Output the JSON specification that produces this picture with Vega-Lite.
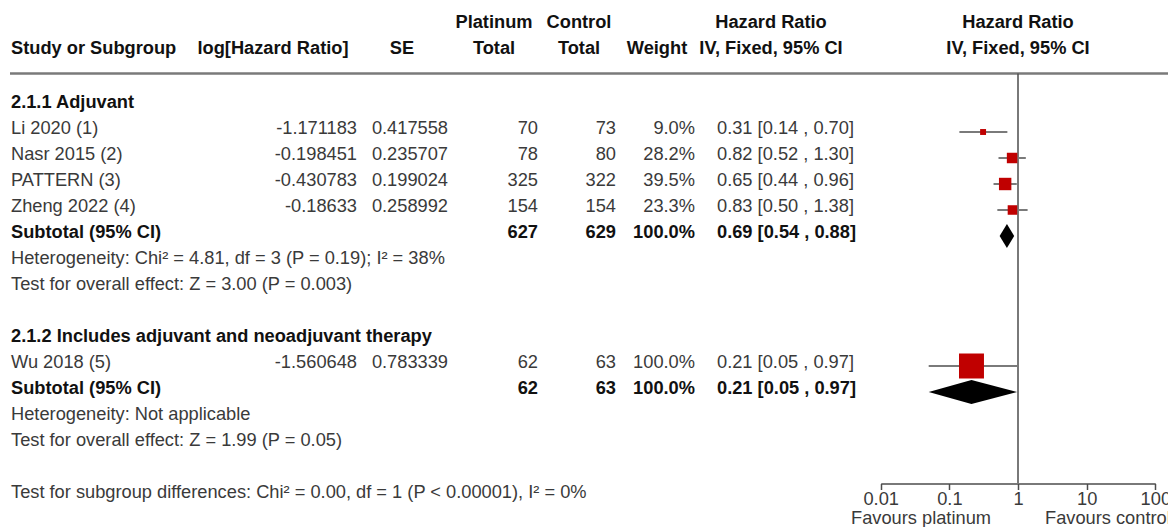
{
  "$schema": "https://vega.github.io/schema/vega-lite/v6.json",
  "width": 1168,
  "height": 527,
  "autosize": {"type": "none"},
  "padding": 0,
  "background": "white",
  "config": {
    "view": {"stroke": null},
    "font": "Liberation Sans",
    "text": {"font": "Liberation Sans", "fontSize": 18.25, "baseline": "middle"}
  },
  "datasets": {
    "rows": [
      {"row": 0, "kind": "group", "label": "2.1.1 Adjuvant"},
      {"row": 1, "kind": "study", "label": "Li 2020 (1)", "loghr": -1.171183, "se": 0.417558, "plat": 70, "ctrl": 73, "weight": 9.0, "wtxt": "9.0%", "hr": 0.31, "lo": 0.14, "hi": 0.70, "ci": "0.31 [0.14 , 0.70]"},
      {"row": 2, "kind": "study", "label": "Nasr 2015 (2)", "loghr": -0.198451, "se": 0.235707, "plat": 78, "ctrl": 80, "weight": 28.2, "wtxt": "28.2%", "hr": 0.82, "lo": 0.52, "hi": 1.30, "ci": "0.82 [0.52 , 1.30]"},
      {"row": 3, "kind": "study", "label": "PATTERN (3)", "loghr": -0.430783, "se": 0.199024, "plat": 325, "ctrl": 322, "weight": 39.5, "wtxt": "39.5%", "hr": 0.65, "lo": 0.44, "hi": 0.96, "ci": "0.65 [0.44 , 0.96]"},
      {"row": 4, "kind": "study", "label": "Zheng 2022 (4)", "loghr": -0.18633, "se": 0.258992, "plat": 154, "ctrl": 154, "weight": 23.3, "wtxt": "23.3%", "hr": 0.83, "lo": 0.50, "hi": 1.38, "ci": "0.83 [0.50 , 1.38]"},
      {"row": 5, "kind": "subtotal", "label": "Subtotal (95% CI)", "plat": 627, "ctrl": 629, "wtxt": "100.0%", "hr": 0.69, "lo": 0.54, "hi": 0.88, "ci": "0.69 [0.54 , 0.88]"},
      {"row": 6, "kind": "note", "label": "Heterogeneity: Chi² = 4.81, df = 3 (P = 0.19); I² = 38%"},
      {"row": 7, "kind": "note", "label": "Test for overall effect: Z = 3.00 (P = 0.003)"},
      {"row": 9, "kind": "group", "label": "2.1.2 Includes adjuvant and neoadjuvant therapy"},
      {"row": 10, "kind": "study", "label": "Wu 2018 (5)", "loghr": -1.560648, "se": 0.783339, "plat": 62, "ctrl": 63, "weight": 100.0, "wtxt": "100.0%", "hr": 0.21, "lo": 0.05, "hi": 0.97, "ci": "0.21 [0.05 , 0.97]"},
      {"row": 11, "kind": "subtotal", "label": "Subtotal (95% CI)", "plat": 62, "ctrl": 63, "wtxt": "100.0%", "hr": 0.21, "lo": 0.05, "hi": 0.97, "ci": "0.21 [0.05 , 0.97]"},
      {"row": 12, "kind": "note", "label": "Heterogeneity: Not applicable"},
      {"row": 13, "kind": "note", "label": "Test for overall effect: Z = 1.99 (P = 0.05)"},
      {"row": 15, "kind": "note", "label": "Test for subgroup differences: Chi² = 0.00, df = 1 (P < 0.00001), I² = 0%"}
    ],
    "header": [
      {"row": -3, "col": "plat", "text": "Platinum"},
      {"row": -3, "col": "ctrl", "text": "Control"},
      {"row": -3, "col": "hr", "text": "Hazard Ratio"},
      {"row": -2, "col": "study", "text": "Study or Subgroup"},
      {"row": -2, "col": "loghr", "text": "log[Hazard Ratio]"},
      {"row": -2, "col": "se", "text": "SE"},
      {"row": -2, "col": "plat", "text": "Total"},
      {"row": -2, "col": "ctrl", "text": "Total"},
      {"row": -2, "col": "weight", "text": "Weight"},
      {"row": -2, "col": "hr", "text": "IV, Fixed, 95% CI"}
    ],
    "plothead": [
      {"row": -3, "text": "Hazard Ratio"},
      {"row": -2, "text": "IV, Fixed, 95% CI"}
    ],
    "favours": [
      {"side": "left", "text": "Favours platinum"},
      {"side": "right", "text": "Favours control"}
    ]
  },
  "layer": [
    {
      "layer": [
        {
          "data": {"name": "rows"},
          "transform": [{"filter": "datum.kind === 'study' || datum.kind === 'note'"}],
          "mark": {"type": "text", "align": "left", "dy": -3, "color": "#3a3a3a"},
          "encoding": {
            "x": {"datum": 0, "type": "quantitative", "scale": {"domain": [0,1,2,3,4,5,6,7,8,9,10,11,12,13,14], "range": [11,357,448,538,616,695,717,273,402,494,579,657,771,10,1168], "nice": false, "zero": false}, "axis": null},
            "y": {"field": "row", "type": "quantitative", "scale": {"domain": [-4.076923, 16.192308], "reverse": true, "nice": false, "zero": false}, "axis": null},
            "text": {"field": "label", "type": "nominal"}
          }
        },
        {
          "data": {"name": "rows"},
          "transform": [{"filter": "datum.kind === 'group' || datum.kind === 'subtotal'"}],
          "mark": {"type": "text", "align": "left", "dy": -3, "fontWeight": "bold", "color": "#111111"},
          "encoding": {
            "x": {"datum": 0, "type": "quantitative"},
            "y": {"field": "row", "type": "quantitative", "axis": null},
            "text": {"field": "label", "type": "nominal"}
          }
        },
        {
          "data": {"name": "rows"},
          "transform": [{"filter": "datum.kind === 'study'"}],
          "mark": {"type": "text", "align": "right", "dy": -3, "color": "#3a3a3a"},
          "encoding": {
            "x": {"datum": 1, "type": "quantitative"},
            "y": {"field": "row", "type": "quantitative", "axis": null},
            "text": {"field": "loghr", "type": "nominal"}
          }
        },
        {
          "data": {"name": "rows"},
          "transform": [{"filter": "datum.kind === 'study'"}],
          "mark": {"type": "text", "align": "right", "dy": -3, "color": "#3a3a3a"},
          "encoding": {
            "x": {"datum": 2, "type": "quantitative"},
            "y": {"field": "row", "type": "quantitative", "axis": null},
            "text": {"field": "se", "type": "nominal"}
          }
        },
        {
          "data": {"name": "rows"},
          "transform": [{"filter": "datum.kind === 'study'"}],
          "mark": {"type": "text", "align": "right", "dy": -3, "color": "#3a3a3a"},
          "encoding": {
            "x": {"datum": 3, "type": "quantitative"},
            "y": {"field": "row", "type": "quantitative", "axis": null},
            "text": {"field": "plat", "type": "nominal"}
          }
        },
        {
          "data": {"name": "rows"},
          "transform": [{"filter": "datum.kind === 'subtotal'"}],
          "mark": {"type": "text", "align": "right", "dy": -3, "fontWeight": "bold", "color": "#111111"},
          "encoding": {
            "x": {"datum": 3, "type": "quantitative"},
            "y": {"field": "row", "type": "quantitative", "axis": null},
            "text": {"field": "plat", "type": "nominal"}
          }
        },
        {
          "data": {"name": "rows"},
          "transform": [{"filter": "datum.kind === 'study'"}],
          "mark": {"type": "text", "align": "right", "dy": -3, "color": "#3a3a3a"},
          "encoding": {
            "x": {"datum": 4, "type": "quantitative"},
            "y": {"field": "row", "type": "quantitative", "axis": null},
            "text": {"field": "ctrl", "type": "nominal"}
          }
        },
        {
          "data": {"name": "rows"},
          "transform": [{"filter": "datum.kind === 'subtotal'"}],
          "mark": {"type": "text", "align": "right", "dy": -3, "fontWeight": "bold", "color": "#111111"},
          "encoding": {
            "x": {"datum": 4, "type": "quantitative"},
            "y": {"field": "row", "type": "quantitative", "axis": null},
            "text": {"field": "ctrl", "type": "nominal"}
          }
        },
        {
          "data": {"name": "rows"},
          "transform": [{"filter": "datum.kind === 'study'"}],
          "mark": {"type": "text", "align": "right", "dy": -3, "color": "#3a3a3a"},
          "encoding": {
            "x": {"datum": 5, "type": "quantitative"},
            "y": {"field": "row", "type": "quantitative", "axis": null},
            "text": {"field": "wtxt", "type": "nominal"}
          }
        },
        {
          "data": {"name": "rows"},
          "transform": [{"filter": "datum.kind === 'subtotal'"}],
          "mark": {"type": "text", "align": "right", "dy": -3, "fontWeight": "bold", "color": "#111111"},
          "encoding": {
            "x": {"datum": 5, "type": "quantitative"},
            "y": {"field": "row", "type": "quantitative", "axis": null},
            "text": {"field": "wtxt", "type": "nominal"}
          }
        },
        {
          "data": {"name": "rows"},
          "transform": [{"filter": "datum.kind === 'study'"}],
          "mark": {"type": "text", "align": "left", "dy": -3, "color": "#3a3a3a"},
          "encoding": {
            "x": {"datum": 6, "type": "quantitative"},
            "y": {"field": "row", "type": "quantitative", "axis": null},
            "text": {"field": "ci", "type": "nominal"}
          }
        },
        {
          "data": {"name": "rows"},
          "transform": [{"filter": "datum.kind === 'subtotal'"}],
          "mark": {"type": "text", "align": "left", "dy": -3, "fontWeight": "bold", "color": "#111111"},
          "encoding": {
            "x": {"datum": 6, "type": "quantitative"},
            "y": {"field": "row", "type": "quantitative", "axis": null},
            "text": {"field": "ci", "type": "nominal"}
          }
        },
        {
          "data": {"name": "header"},
          "transform": [{"filter": "datum.col === 'study'"}],
          "mark": {"type": "text", "align": "left", "dy": -5, "fontWeight": "bold", "color": "#111111"},
          "encoding": {
            "x": {"datum": 0, "type": "quantitative"},
            "y": {"field": "row", "type": "quantitative", "axis": null},
            "text": {"field": "text", "type": "nominal"}
          }
        },
        {
          "data": {"name": "header"},
          "transform": [{"filter": "datum.col === 'loghr'"}],
          "mark": {"type": "text", "align": "center", "dy": -5, "fontWeight": "bold", "color": "#111111"},
          "encoding": {
            "x": {"datum": 7, "type": "quantitative"},
            "y": {"field": "row", "type": "quantitative", "axis": null},
            "text": {"field": "text", "type": "nominal"}
          }
        },
        {
          "data": {"name": "header"},
          "transform": [{"filter": "datum.col === 'se'"}],
          "mark": {"type": "text", "align": "center", "dy": -5, "fontWeight": "bold", "color": "#111111"},
          "encoding": {
            "x": {"datum": 8, "type": "quantitative"},
            "y": {"field": "row", "type": "quantitative", "axis": null},
            "text": {"field": "text", "type": "nominal"}
          }
        },
        {
          "data": {"name": "header"},
          "transform": [{"filter": "datum.col === 'plat'"}],
          "mark": {"type": "text", "align": "center", "dy": -5, "fontWeight": "bold", "color": "#111111"},
          "encoding": {
            "x": {"datum": 9, "type": "quantitative"},
            "y": {"field": "row", "type": "quantitative", "axis": null},
            "text": {"field": "text", "type": "nominal"}
          }
        },
        {
          "data": {"name": "header"},
          "transform": [{"filter": "datum.col === 'ctrl'"}],
          "mark": {"type": "text", "align": "center", "dy": -5, "fontWeight": "bold", "color": "#111111"},
          "encoding": {
            "x": {"datum": 10, "type": "quantitative"},
            "y": {"field": "row", "type": "quantitative", "axis": null},
            "text": {"field": "text", "type": "nominal"}
          }
        },
        {
          "data": {"name": "header"},
          "transform": [{"filter": "datum.col === 'weight'"}],
          "mark": {"type": "text", "align": "center", "dy": -5, "fontWeight": "bold", "color": "#111111"},
          "encoding": {
            "x": {"datum": 11, "type": "quantitative"},
            "y": {"field": "row", "type": "quantitative", "axis": null},
            "text": {"field": "text", "type": "nominal"}
          }
        },
        {
          "data": {"name": "header"},
          "transform": [{"filter": "datum.col === 'hr'"}],
          "mark": {"type": "text", "align": "center", "dy": -5, "fontWeight": "bold", "color": "#111111"},
          "encoding": {
            "x": {"datum": 12, "type": "quantitative"},
            "y": {"field": "row", "type": "quantitative", "axis": null},
            "text": {"field": "text", "type": "nominal"}
          }
        },
        {
          "data": {"values": [{}]},
          "mark": {"type": "rule", "color": "#7a7a7a", "strokeWidth": 2.5},
          "encoding": {
            "x": {"datum": 13, "type": "quantitative"},
            "x2": {"datum": 14},
            "y": {"datum": -1.25, "type": "quantitative", "axis": null}
          }
        }
      ]
    },
    {
      "layer": [
        {
          "data": {"values": [{}]},
          "mark": {"type": "rule", "color": "#4d4d4d", "strokeWidth": 1.5},
          "encoding": {
            "x": {
              "datum": 1, "type": "quantitative",
              "scale": {"type": "log", "domain": [0.01, 100], "range": [880.7, 1155.3], "nice": false},
              "axis": {"values": [0.01, 0.1, 1, 10, 100], "format": "~g", "orient": "bottom", "offset": -43.5, "grid": false, "title": null, "domainColor": "#4d4d4d", "domainWidth": 1.5, "tickColor": "#4d4d4d", "tickWidth": 1.5, "tickSize": 6, "labelFont": "Liberation Sans", "labelFontSize": 18.25, "labelColor": "#3a3a3a", "labelPadding": 1, "labelFlush": false, "labelOverlap": false}
            },
            "y": {"datum": -1.25, "type": "quantitative", "axis": null},
            "y2": {"datum": 14.5}
          }
        },
        {
          "data": {"name": "rows"},
          "transform": [{"filter": "datum.kind === 'study'"}],
          "mark": {"type": "rule", "color": "#7a7a7a", "strokeWidth": 2},
          "encoding": {
            "x": {"field": "lo", "type": "quantitative"},
            "x2": {"field": "hi"},
            "y": {"field": "row", "type": "quantitative", "axis": null}
          }
        },
        {
          "data": {"name": "rows"},
          "transform": [{"filter": "datum.kind === 'study'"}],
          "mark": {"type": "point", "shape": "square", "filled": true, "color": "#c00000", "opacity": 1},
          "encoding": {
            "x": {"field": "hr", "type": "quantitative"},
            "y": {"field": "row", "type": "quantitative", "axis": null},
            "size": {"field": "weight", "type": "quantitative", "scale": {"domain": [0, 40, 100], "range": [0, 156, 625]}, "legend": null}
          }
        },
        {
          "data": {"name": "rows"},
          "transform": [
            {"filter": "datum.kind === 'subtotal'"},
            {"fold": ["lo", "hr", "hi"], "as": ["vertex", "xv"]}
          ],
          "mark": {"type": "area", "orient": "vertical", "color": "#000000", "opacity": 1, "yOffset": {"expr": "datum.vertex === 'hr' ? -12 : 0"}, "y2Offset": {"expr": "datum.vertex === 'hr' ? 12 : 0"}},
          "encoding": {
            "x": {"field": "xv", "type": "quantitative"},
            "y": {"field": "row", "type": "quantitative", "stack": null, "axis": null},
            "y2": {"field": "row"},
            "detail": {"field": "row", "type": "nominal"}
          }
        },
        {
          "data": {"name": "plothead"},
          "mark": {"type": "text", "align": "center", "dy": -5, "fontWeight": "bold", "color": "#111111"},
          "encoding": {
            "x": {"datum": 1, "type": "quantitative"},
            "y": {"field": "row", "type": "quantitative", "axis": null},
            "text": {"field": "text", "type": "nominal"}
          }
        },
        {
          "data": {"name": "favours"},
          "transform": [{"filter": "datum.side === 'left'"}],
          "mark": {"type": "text", "align": "right", "dx": -27, "color": "#3a3a3a"},
          "encoding": {
            "x": {"datum": 1, "type": "quantitative"},
            "y": {"datum": 15.87, "type": "quantitative", "axis": null},
            "text": {"field": "text", "type": "nominal"}
          }
        },
        {
          "data": {"name": "favours"},
          "transform": [{"filter": "datum.side === 'right'"}],
          "mark": {"type": "text", "align": "left", "dx": 27, "color": "#3a3a3a"},
          "encoding": {
            "x": {"datum": 1, "type": "quantitative"},
            "y": {"datum": 15.87, "type": "quantitative", "axis": null},
            "text": {"field": "text", "type": "nominal"}
          }
        }
      ]
    }
  ],
  "resolve": {"scale": {"x": "independent"}, "axis": {"x": "independent"}}
}
